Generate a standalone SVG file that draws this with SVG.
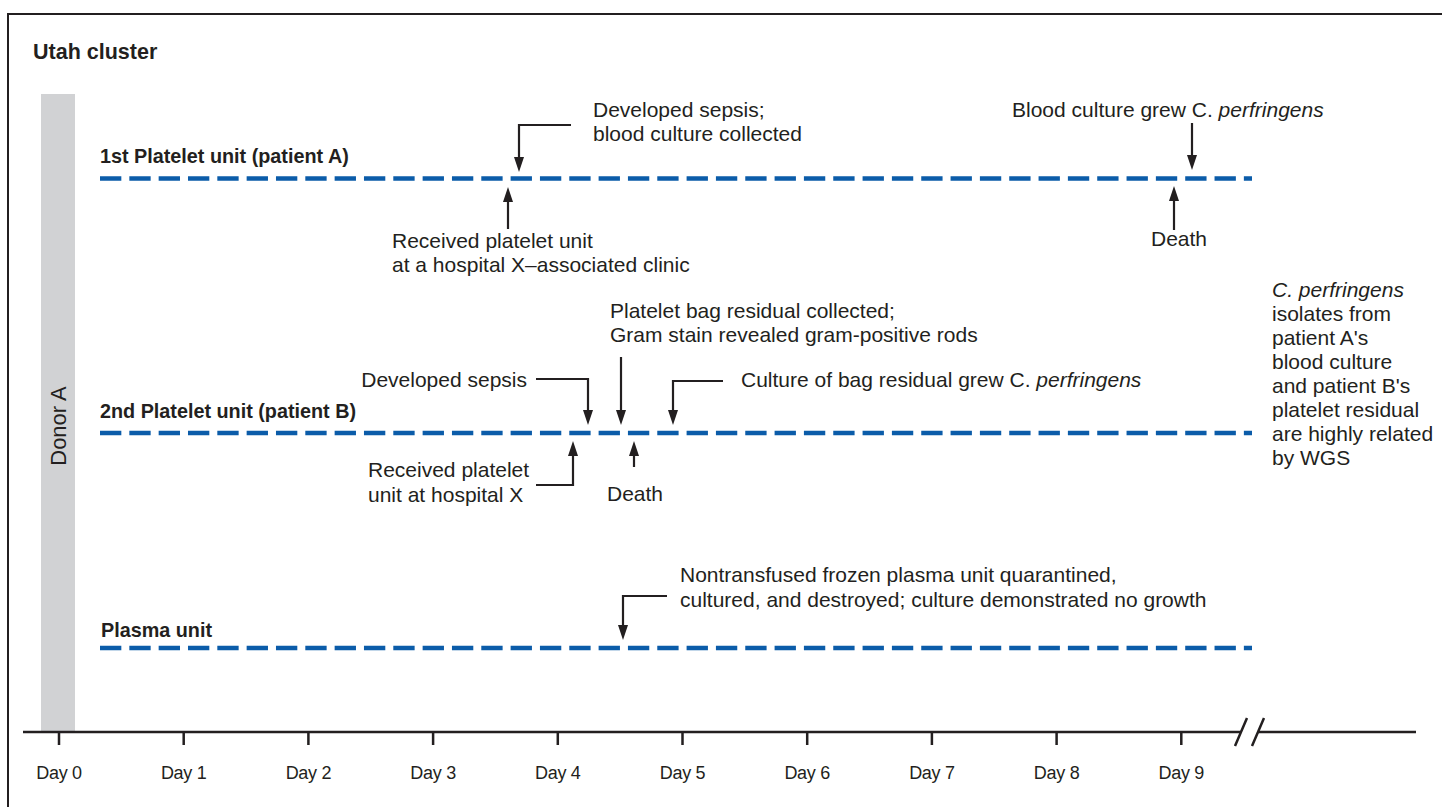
<svg xmlns="http://www.w3.org/2000/svg" width="1442" height="807" viewBox="0 0 1442 807">
<defs>
<style>
text{font-family:"Liberation Sans",Arial,sans-serif;fill:#231f20}
.t{font-size:21px}
.b{font-size:19.8px;font-weight:bold}
.day{font-size:18px;text-anchor:middle;letter-spacing:-0.3px}
.dash{stroke:#0b5ca9;stroke-width:4.5;stroke-dasharray:21.33 8;fill:none}
.con{stroke:#231f20;stroke-width:2.2;fill:none;marker-end:url(#ah)}
.ax{stroke:#231f20;stroke-width:2.5;fill:none}
</style>
<marker id="ah" viewBox="0 0 15 10" refX="9" refY="5" markerWidth="15" markerHeight="10" orient="auto" markerUnits="userSpaceOnUse">
<path d="M0,0 L15,5 L0,10 z" fill="#231f20"/>
</marker>
</defs>
<rect width="1442" height="807" fill="#fff"/>
<path d="M8,807 V14 H1442" fill="none" stroke="#231f20" stroke-width="2"/>
<text x="33" y="59" style="font-size:21.5px;font-weight:bold">Utah cluster</text>

<g id="donor">
<rect x="41" y="94" width="34" height="638" fill="#d1d2d4"/>
<text transform="translate(66,426) rotate(-90)" text-anchor="middle" style="font-size:22px">Donor A</text>
</g>

<g id="unit-a">
<text class="b" x="100" y="163">1st Platelet unit (patient A)</text>
<line class="dash" x1="100" y1="178.5" x2="1252" y2="178.5"/>
</g>
<g id="unit-b">
<text class="b" x="100" y="418">2nd Platelet unit (patient B)</text>
<line class="dash" x1="100" y1="433" x2="1252" y2="433"/>
</g>
<g id="plasma">
<text class="b" x="101" y="637">Plasma unit</text>
<line class="dash" x1="100" y1="648" x2="1252" y2="648"/>
</g>

<g id="labels">
<text class="t" x="593" y="117">Developed sepsis;</text>
<text class="t" x="593" y="141">blood culture collected</text>
<text class="t" x="392" y="248">Received platelet unit</text>
<text class="t" x="392" y="272">at a hospital X–associated clinic</text>
<text class="t" x="1012" y="117">Blood culture grew C. <tspan font-style="italic">perfringens</tspan></text>
<text class="t" x="1151" y="246">Death</text>
<text class="t" x="527" y="387" text-anchor="end">Developed sepsis</text>
<text class="t" x="610" y="318">Platelet bag residual collected;</text>
<text class="t" x="610" y="342">Gram stain revealed gram-positive rods</text>
<text class="t" x="741" y="387">Culture of bag residual grew C. <tspan font-style="italic">perfringens</tspan></text>
<text class="t" x="368" y="477">Received platelet</text>
<text class="t" x="368" y="502">unit at hospital X</text>
<text class="t" x="607" y="501">Death</text>
<text class="t" x="680" y="582">Nontransfused frozen plasma unit quarantined,</text>
<text class="t" x="680" y="607">cultured, and destroyed; culture demonstrated no growth</text>
<text class="t" x="1272" y="297"><tspan font-style="italic">C. perfringens</tspan></text>
<text class="t" x="1272" y="321">isolates from</text>
<text class="t" x="1272" y="345">patient A's</text>
<text class="t" x="1272" y="369">blood culture</text>
<text class="t" x="1272" y="393">and patient B's</text>
<text class="t" x="1272" y="417">platelet residual</text>
<text class="t" x="1272" y="441">are highly related</text>
<text class="t" x="1272" y="465">by WGS</text>
</g>

<g id="connectors">
<path class="con" d="M571,125 H519 V166"/>
<path class="con" d="M508,229 V193"/>
<path class="con" d="M1192,123 V164"/>
<path class="con" d="M1174,230 V192"/>
<path class="con" d="M536,379 H588 V419"/>
<path class="con" d="M621,357 V419"/>
<path class="con" d="M723,381 H673 V419"/>
<path class="con" d="M536,485 H573 V447"/>
<path class="con" d="M634,467 V447"/>
<path class="con" d="M667,596 H623 V634"/>
</g>

<g id="axis">
<path class="ax" d="M23,732 H1241 M1258,732 H1416"/>
<path class="ax" d="M1235,746 L1247,718 M1252,746 L1264,718" stroke-width="2"/>
<path class="ax" stroke-width="2" d="M59,732 V745 M183.7,732 V745 M308.4,732 V745 M433.1,732 V745 M557.8,732 V745 M682.5,732 V745 M807.2,732 V745 M931.9,732 V745 M1056.6,732 V745 M1181.3,732 V745"/>
<text class="day" x="59" y="779">Day 0</text>
<text class="day" x="183.7" y="779">Day 1</text>
<text class="day" x="308.4" y="779">Day 2</text>
<text class="day" x="433.1" y="779">Day 3</text>
<text class="day" x="557.8" y="779">Day 4</text>
<text class="day" x="682.5" y="779">Day 5</text>
<text class="day" x="807.2" y="779">Day 6</text>
<text class="day" x="931.9" y="779">Day 7</text>
<text class="day" x="1056.6" y="779">Day 8</text>
<text class="day" x="1181.3" y="779">Day 9</text>
</g>
</svg>
